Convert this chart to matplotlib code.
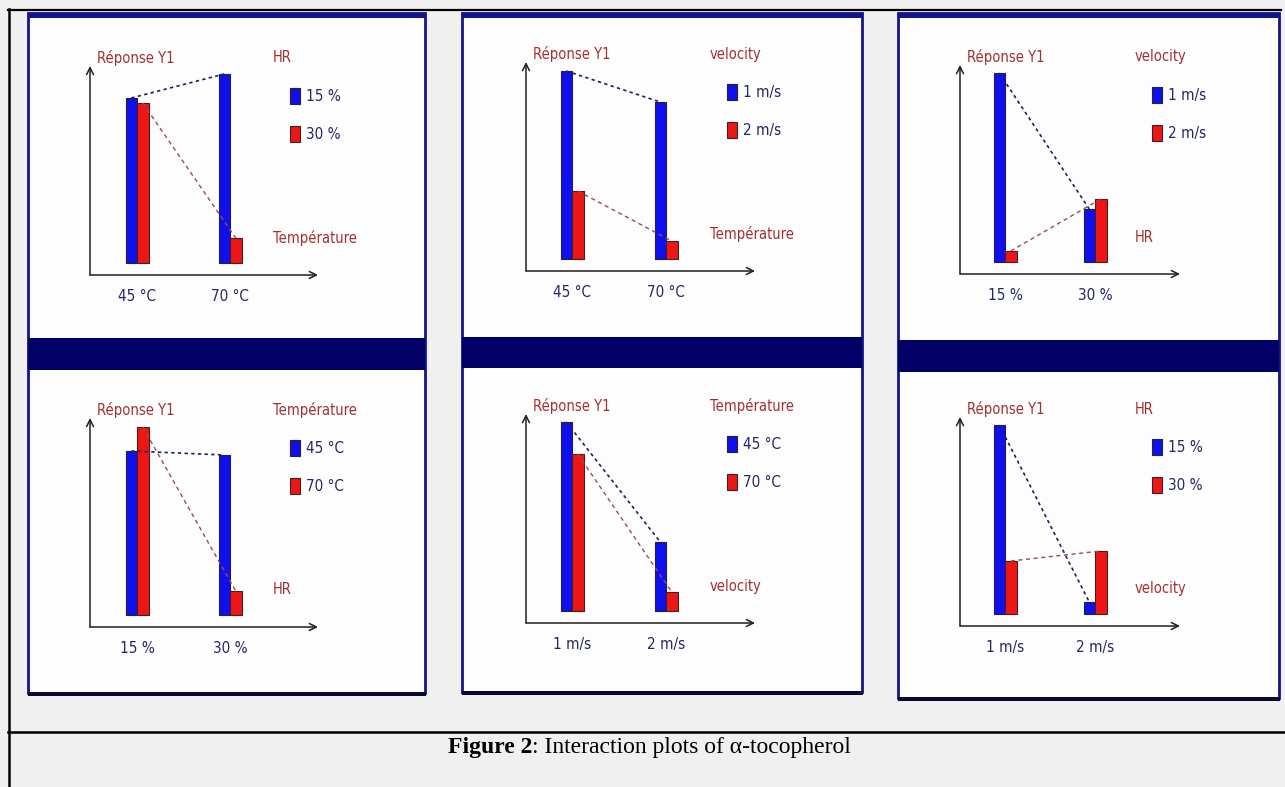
import numpy as np
import matplotlib
matplotlib.use("Agg")
import matplotlib.pyplot as plt
from matplotlib.patches import Rectangle, Patch

plt.rcParams['font.family'] = ['Liberation Sans Narrow', 'DejaVu Sans']
plt.rcParams['font.stretch'] = 'condensed'

# factor levels
temp_levels = ["45 °C", "70 °C"]
hr_levels = ["15 %", "30 %"]
vel_levels = ["1 m/s", "2 m/s"]

# response Y1 (arbitrary units, bar heights)
# top row: x = Température, legend HR
temp_hr_blue = [165, 189]
temp_hr_red = [160, 25]
# top middle: x = Température, legend velocity
temp_vel_blue = [188, 157]
temp_vel_red = [68, 18]
# top right: x = HR, legend velocity
hr_vel_blue = [189, 53]
hr_vel_red = [11, 63]
# bottom left: x = HR, legend Température
hr_temp_blue = [164, 160]
hr_temp_red = [188, 24]
# bottom middle: x = velocity, legend Température
vel_temp_blue = [189, 69]
vel_temp_red = [157, 19]
# bottom right: x = velocity, legend HR
vel_hr_blue = [189, 12]
vel_hr_red = [53, 63]

panels = [
    ("Température", temp_levels, "HR", hr_levels, temp_hr_blue, temp_hr_red),
    ("Température", temp_levels, "velocity", vel_levels, temp_vel_blue, temp_vel_red),
    ("HR", hr_levels, "velocity", vel_levels, hr_vel_blue, hr_vel_red),
    ("HR", hr_levels, "Température", temp_levels, hr_temp_blue, hr_temp_red),
    ("velocity", vel_levels, "Température", temp_levels, vel_temp_blue, vel_temp_red),
    ("velocity", vel_levels, "HR", hr_levels, vel_hr_blue, vel_hr_red),
]

W, H = 1285, 787
BLUE = '#1010ee'
RED = '#ee1515'
LBL = '#a33030'
TICK = '#25256a'
NAVY = '#000066'
FS = 10.5

fig = plt.figure(figsize=(W / 100, H / 100), dpi=100, facecolor='#f0f0f0')
bg = fig.add_axes([0, 0, 1, 1])
bg.set_xlim(0, W)
bg.set_ylim(H, 0)
bg.axis('off')

# table lines
bg.plot([8, 1281], [9.5, 9.5], color='black', lw=1.6)
bg.plot([8.5, 8.5], [9, H], color='black', lw=1.8)
bg.plot([8, W], [732, 732], color='black', lw=1.8)

# screenshot frames: x0, y0, x1, y1, band top, band bottom
frames = [(28, 13, 425, 693, 338, 370),
          (462, 13, 862, 692, 337, 368),
          (898, 13, 1279, 698, 340, 372)]
for x0, y0, x1, y1, b0, b1 in frames:
    bg.add_patch(Rectangle((x0, y0), x1 - x0, y1 - y0, facecolor='#fdfdfd',
                           edgecolor='#14148a', lw=2))
    bg.add_patch(Rectangle((x0, y0), x1 - x0, 5, facecolor='#14148a', lw=0))
    bg.add_patch(Rectangle((x0, b0), x1 - x0, b1 - b0, facecolor=NAVY, lw=0))
    bg.add_patch(Rectangle((x0, y1 - 1), x1 - x0 + 1, 4, facecolor='#0a0a30', lw=0))

# caption
cap = bg.text(448, 758, "Figure 2", fontsize=17, fontweight='bold',
              family='Liberation Serif', stretch='normal', va='bottom', ha='left')
bg.annotate(": Interaction plots of α-tocopherol", xy=(1, 0), xycoords=cap,
            fontsize=17, family='Liberation Serif', stretch='normal',
            va='bottom', ha='left')

# plot geometry in pixels (origin of arrows)
origins = [(90, 275), (526, 271), (960, 274), (90, 627), (526, 623), (960, 626)]
col_w = [228, 229, 220]
col_c0 = [47, 46, 45]
col_step = [93, 94, 90]
AX_H = 209
GAP = 12
x = np.arange(2)

for i, (xname, xlev, lname, llev, blue, red) in enumerate(panels):
    ox, oy = origins[i]
    w, c0, step = col_w[i % 3], col_c0[i % 3], col_step[i % 3]
    bw = 11.5 / step
    ax = fig.add_axes([ox / W, 1 - oy / H, w / W, AX_H / H])
    ax.set_facecolor('none')
    ax.set_xlim(-c0 / step, (w - c0) / step)
    ax.set_ylim(-GAP, AX_H - GAP)
    ax.bar(x - bw / 2, blue, bw, color=BLUE, edgecolor='#202040', lw=0.8)
    ax.bar(x + bw / 2, red, bw, color=RED, edgecolor='#402020', lw=0.8)
    ax.plot(x - bw / 2, blue, color='#20205a', lw=1.2, ls=(0, (2, 2)))
    ax.plot(x + bw / 2, red, color='#a04a4a', lw=1.0, ls=(0, (3, 2.5)))
    for s in ax.spines.values():
        s.set_visible(False)
    ax.set_yticks([])
    ax.set_xticks(x, xlev)
    ax.tick_params(axis='x', length=0, pad=10, labelsize=FS + 0.5, labelcolor=TICK)
    arrow = dict(arrowstyle='->,head_length=0.5,head_width=0.25', lw=1.1,
                 color='#202020', shrinkA=0, shrinkB=0)
    ax.annotate('', xy=(0, 1), xytext=(0, 0), xycoords='axes fraction', arrowprops=arrow)
    ax.annotate('', xy=(1, 0), xytext=(0, 0), xycoords='axes fraction', arrowprops=arrow)

    bg.text(ox + 7, oy - 217, "Réponse Y1", color=LBL, fontsize=FS, va='center')
    bg.text(ox + w - 45, oy - 217, lname, color=LBL, fontsize=FS, va='center')
    bg.text(ox + w - 45, oy - 37, xname, color=LBL, fontsize=FS, va='center')

    handles = [Patch(facecolor=BLUE, edgecolor='#202040', lw=0.8),
               Patch(facecolor=RED, edgecolor='#402020', lw=0.8)]
    fpx = FS * 100 / 72
    ax.legend(handles, llev, loc='upper left', bbox_to_anchor=((w - 28) / w, 187 / AX_H),
              frameon=False, fontsize=FS + 0.5, labelcolor=TICK, borderpad=0,
              borderaxespad=0, handlelength=10 / fpx, handleheight=18 / fpx,
              handletextpad=5 / fpx, labelspacing=21 / fpx)

fig.savefig('out.png', dpi=100, facecolor=fig.get_facecolor())
